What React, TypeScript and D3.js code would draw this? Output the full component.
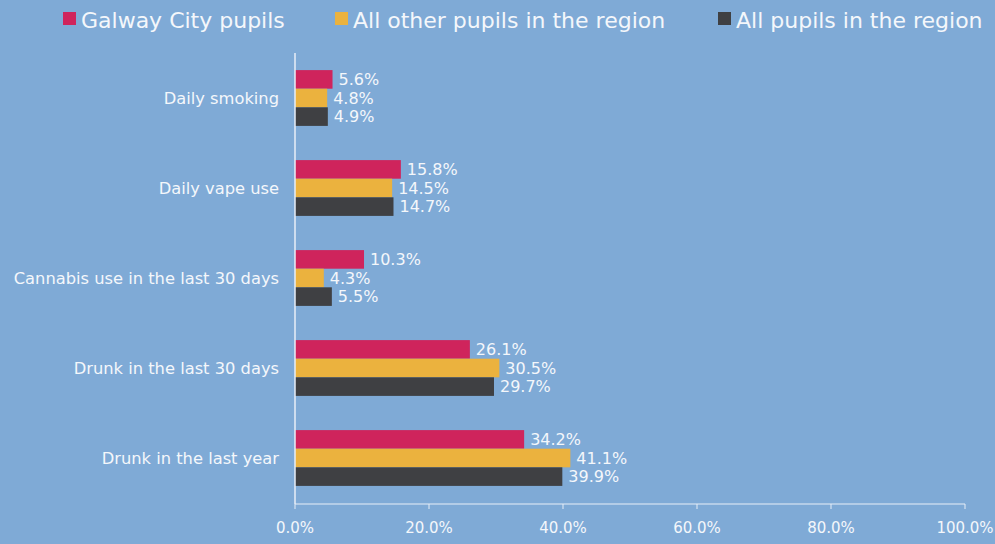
import React from "react";
import * as d3 from "d3";

const categories = [
  "Daily smoking",
  "Daily vape use",
  "Cannabis use in the last 30 days",
  "Drunk in the last 30 days",
  "Drunk in the last year",
];
const seriesNames = ["Galway City pupils", "All other pupils in the region", "All pupils in the region"];
const galway = [5.6, 15.8, 10.3, 26.1, 34.2];
const otherRegion = [4.8, 14.5, 4.3, 30.5, 41.1];
const allRegion = [4.9, 14.7, 5.5, 29.7, 39.9];
const xTicks = [0, 20, 40, 60, 80, 100];

const colors = ["#CF245C", "#EBB23E", "#3F4043"];
const W = 995;
const H = 544;
const BG = "#7FAAD6";
const TXT = "#F4F7FB";
const FONT = "'DejaVu Sans', sans-serif";

export default function App() {
  const series = [galway, otherRegion, allRegion];
  const x = d3.scaleLinear().domain([0, 100]).range([295, 965]);
  const y = d3.scaleBand().domain(categories).range([53, 503]).paddingInner(0.38).paddingOuter(0.19);
  const inner = d3.scaleBand().domain(["0", "1", "2"]).range([0, y.bandwidth()]);
  const legendX = [63, 335, 718];
  return (
    <svg width={W} height={H} style={{ position: "absolute", left: 0, top: 0, display: "block" }}>
      <rect x={0} y={0} width={W} height={H} fill={BG} />
      {seriesNames.map((n, i) => (
        <g key={n}>
          <rect x={legendX[i]} y={12} width={13} height={13} fill={colors[i]} />
          <text x={legendX[i] + 18} y={27.5} fontFamily={FONT} fontSize={22} fill={TXT}>
            {n}
          </text>
        </g>
      ))}
      {categories.map((c, ci) => (
        <g key={c}>
          <text
            x={279}
            y={(y(c) as number) + y.bandwidth() / 2 + 5.5}
            textAnchor="end"
            fontFamily={FONT}
            fontSize={16.3}
            fill={TXT}
          >
            {c}
          </text>
          {series.map((s, si) => {
            const by = (y(c) as number) + (inner(String(si)) as number);
            return (
              <g key={si}>
                <rect
                  x={x(0)}
                  y={by}
                  width={x(s[ci]) - x(0)}
                  height={inner.bandwidth()}
                  fill={colors[si]}
                />
                <text
                  x={x(s[ci]) + 6}
                  y={by + inner.bandwidth() / 2 + 5.5}
                  fontFamily={FONT}
                  fontSize={16}
                  fill={TXT}
                >
                  {s[ci].toFixed(1) + "%"}
                </text>
              </g>
            );
          })}
        </g>
      ))}
      <line x1={x(0)} x2={x(0)} y1={53} y2={504} stroke="#E8EEF7" strokeWidth={1.5} />
      <line x1={x(0)} x2={x(100)} y1={504} y2={504} stroke="#E8EEF7" strokeWidth={1} />
      {xTicks.map((t) => (
        <g key={t}>
          <line x1={x(t)} x2={x(t)} y1={504} y2={509} stroke="#E8EEF7" />
          <text x={x(t)} y={533} textAnchor="middle" fontFamily={FONT} fontSize={15} fill={TXT}>
            {t.toFixed(1) + "%"}
          </text>
        </g>
      ))}
    </svg>
  );
}
